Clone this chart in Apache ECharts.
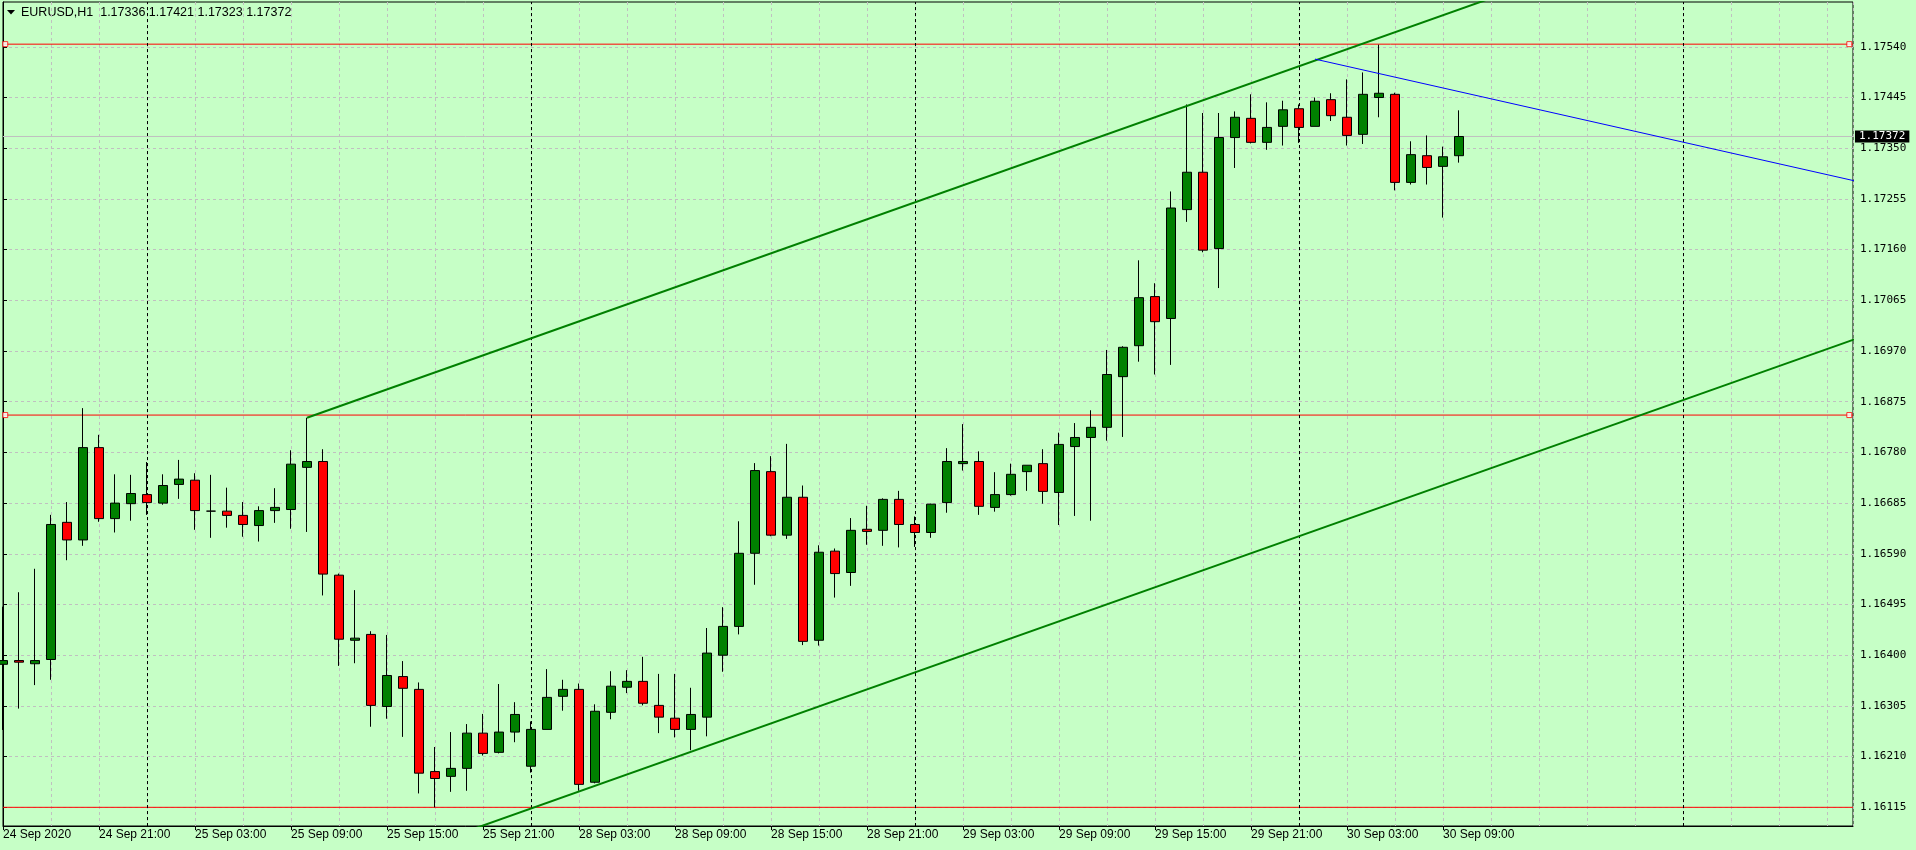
<!DOCTYPE html>
<html><head><meta charset="utf-8">
<script src="https://cdn.jsdelivr.net/npm/echarts@6/dist/echarts.min.js"></script>
<style>html,body{margin:0;padding:0;background:#c6ffc6;}#c{width:1916px;height:850px;}</style>
</head><body><div id="c"></div>
<script>
// ---- data ----
const symbolTitle = 'EURUSD,H1';
const lastBarText = '1.17336 1.17421 1.17323 1.17372';
// hourly bars, index 0 = 24 Sep 15:00 ... 91 = 30 Sep 10:00
const opens  = [1.16383,1.16390,1.16384,1.16392,1.16649,1.16616,1.16789,1.16656,1.16684,1.16701,
                1.16685,1.16720,1.16728,1.16670,1.16670,1.16662,1.16643,1.16671,1.16673,1.16752,
                1.16763,1.16550,1.16428,1.16439,1.16304,1.16360,1.16336,1.16182,1.16173,1.16188,
                1.16254,1.16218,1.16256,1.16192,1.16261,1.16323,1.16336,1.16162,1.16293,1.16340,
                1.16351,1.16306,1.16282,1.16261,1.16284,1.16400,1.16454,1.16591,1.16744,1.16625,
                1.16696,1.16428,1.16595,1.16555,1.16636,1.16634,1.16692,1.16645,1.16630,1.16686,
                1.16759,1.16763,1.16677,1.16701,1.16744,1.16759,1.16705,1.16791,1.16808,1.16827,
                1.16922,1.16980,1.17072,1.17031,1.17235,1.17305,1.17162,1.17370,1.17406,1.17361,
                1.17391,1.17424,1.17391,1.17441,1.17408,1.17376,1.17445,1.17451,1.17286,1.17336,
                1.17316,1.17336];
const closes = [1.16390,1.16387,1.16390,1.16645,1.16616,1.16789,1.16656,1.16685,1.16703,1.16686,
                1.16718,1.16730,1.16671,1.16670,1.16662,1.16645,1.16671,1.16677,1.16758,1.16763,
                1.16552,1.16430,1.16432,1.16306,1.16362,1.16338,1.16179,1.16169,1.16188,1.16254,
                1.16216,1.16256,1.16289,1.16261,1.16321,1.16336,1.16158,1.16295,1.16342,1.16351,
                1.16310,1.16284,1.16261,1.16289,1.16404,1.16454,1.16591,1.16746,1.16625,1.16696,
                1.16426,1.16593,1.16553,1.16634,1.16632,1.16692,1.16645,1.16630,1.16683,1.16763,
                1.16763,1.16679,1.16701,1.16739,1.16756,1.16707,1.16795,1.16808,1.16827,1.16926,
                1.16977,1.17070,1.17025,1.17238,1.17305,1.17159,1.17370,1.17408,1.17361,1.17389,
                1.17422,1.17389,1.17438,1.17411,1.17374,1.17451,1.17453,1.17286,1.17338,1.17314,
                1.17334,1.17372];
const lows   = [1.16260,1.16300,1.16344,1.16354,1.16578,1.16605,1.16650,1.16630,1.16652,1.16663,
                1.16682,1.16693,1.16635,1.16620,1.16639,1.16622,1.16613,1.16648,1.16637,1.16631,
                1.16512,1.16380,1.16385,1.16266,1.16281,1.16247,1.16141,1.16115,1.16144,1.16146,
                1.16212,1.16216,1.16237,1.16180,1.16261,1.16296,1.16146,1.16160,1.16280,1.16329,
                1.16306,1.16254,1.16246,1.16222,1.16248,1.16369,1.16439,1.16532,1.16623,1.16618,
                1.16419,1.16418,1.16508,1.16530,1.16607,1.16605,1.16602,1.16603,1.16620,1.16667,
                1.16746,1.16663,1.16669,1.16699,1.16708,1.16684,1.16644,1.16661,1.16652,1.16802,
                1.16809,1.16950,1.16926,1.16944,1.17212,1.17155,1.17088,1.17313,1.17359,1.17347,
                1.17355,1.17360,1.17391,1.17401,1.17355,1.17358,1.17408,1.17271,1.17282,1.17282,
                1.17220,1.17323];
const highs  = [1.16491,1.16518,1.16562,1.16663,1.16687,1.16863,1.16813,1.16739,1.16738,1.16762,
                1.16739,1.16766,1.16741,1.16738,1.16714,1.16687,1.16679,1.16713,1.16784,1.16845,
                1.16786,1.16553,1.16522,1.16445,1.16438,1.16389,1.16349,1.16228,1.16256,1.16271,
                1.16290,1.16346,1.16312,1.16276,1.16374,1.16354,1.16347,1.16308,1.16370,1.16372,
                1.16397,1.16365,1.16365,1.16339,1.16451,1.16490,1.16651,1.16760,1.16773,1.16796,
                1.16718,1.16606,1.16600,1.16657,1.16680,1.16694,1.16708,1.16660,1.16684,1.16788,
                1.16833,1.16782,1.16743,1.16759,1.16756,1.16786,1.16817,1.16835,1.16859,1.16972,
                1.16979,1.17140,1.17097,1.17269,1.17432,1.17416,1.17416,1.17419,1.17451,1.17436,
                1.17439,1.17432,1.17445,1.17453,1.17479,1.17492,1.17544,1.17454,1.17363,1.17374,
                1.17353,1.17421];
const xLabelIndex = [0,6,12,18,24,30,36,42,48,54,60,66,72,78,84,90];
const xLabelText  = ['24 Sep 2020','24 Sep 21:00','25 Sep 03:00','25 Sep 09:00','25 Sep 15:00','25 Sep 21:00',
                     '28 Sep 03:00','28 Sep 09:00','28 Sep 15:00','28 Sep 21:00','29 Sep 03:00','29 Sep 09:00',
                     '29 Sep 15:00','29 Sep 21:00','30 Sep 03:00','30 Sep 09:00'];
const yTickValues = [1.16115,1.16210,1.16305,1.16400,1.16495,1.16590,1.16685,1.16780,1.16875,
                     1.16970,1.17065,1.17160,1.17255,1.17350,1.17445,1.17540];
const daySeparators = [9,33,57,81,105];
const redLevels = [1.17545,1.16850,1.16115];
const anchoredLevels = [1.17545,1.16850];
const channelUpper = [[19,1.16845],[96,1.17663]];
const channelLower = [[19,1.15964],[116,1.16995]];
const blueLine = [[82,1.17517],[116,1.17287]];
const currentPrice = 1.17372;

// ---- chart ----
const X_MIN = 0, X_MAX = 115.625, Y_MIN = 1.16080, Y_MAX = 1.17624;
const BG = '#c6ffc6';
const candleData = opens.map((o, i) => [i, o, closes[i], lows[i], highs[i]]);
const chart = echarts.init(document.getElementById('c'));
const gridDash = {color: '#c0c0c0', width: 1, type: [3, 3]};
const hLine = (v, color, z) => ({type: 'line', z: z, silent: true, symbol: 'none', data: [[X_MIN, v], [X_MAX, v]],
  lineStyle: {color: color, width: 1, type: 'solid'}});
chart.setOption({
  animation: false,
  backgroundColor: BG,
  grid: {left: 3, right: 63, top: 2, bottom: 24, show: true, borderColor: '#000', borderWidth: 1, backgroundColor: 'transparent'},
  graphic: [
    {type: 'polygon', shape: {points: [[7, 10], [15, 10], [11, 14.5]]}, style: {fill: '#000'}},
    {type: 'text', left: 21, top: 6, style: {text: symbolTitle + '  ' + lastBarText, font: '12.5px "Liberation Sans"', fill: '#000'}}
  ],
  xAxis: [
    {type: 'value', min: X_MIN, max: X_MAX, interval: 3, position: 'bottom',
     axisLine: {show: true, lineStyle: {color: '#000'}}, axisTick: {show: false}, axisLabel: {show: false},
     splitLine: {show: true, lineStyle: gridDash}},
    {type: 'value', min: X_MIN, max: X_MAX, position: 'bottom',
     axisLine: {show: false},
     axisTick: {show: true, customValues: xLabelIndex, length: 4, lineStyle: {color: '#000'}},
     axisLabel: {customValues: xLabelIndex, formatter: v => xLabelText[xLabelIndex.indexOf(Math.round(v))] || '',
                 align: 'left', margin: 3, color: '#000', fontFamily: 'Liberation Sans', fontSize: 12},
     splitLine: {show: false}}
  ],
  yAxis: [
    {type: 'value', position: 'right', min: Y_MIN, max: Y_MAX, scale: true,
     axisLine: {show: true, lineStyle: {color: '#000'}},
     axisTick: {show: true, customValues: yTickValues, length: 4, lineStyle: {color: '#000'}},
     axisLabel: {customValues: yTickValues, formatter: v => v.toFixed(5), margin: 7, color: '#000',
                 fontFamily: 'DejaVu Sans Mono', fontSize: 11},
     splitLine: {show: true, lineStyle: gridDash}},
    {type: 'value', position: 'right', min: Y_MIN, max: Y_MAX, scale: true,
     axisLine: {show: false}, axisTick: {show: false}, splitLine: {show: false},
     axisLabel: {customValues: [currentPrice], formatter: v => v.toFixed(5), margin: 2, color: '#fff',
                 backgroundColor: '#000', padding: [1, 4, 0, 4],
                 fontFamily: 'DejaVu Sans Mono', fontSize: 11}}
  ],
  series: [
    {type: 'line', data: [], z: 1, silent: true,
     markLine: {silent: true, symbol: ['none', 'none'], label: {show: false},
       lineStyle: {color: '#000', width: 1, type: [3, 3]},
       data: daySeparators.map(v => ({xAxis: v}))}},
    hLine(currentPrice, '#c0c0c0', 2),
    ...redLevels.map(v => hLine(v, '#ff0000', 3)),
    {type: 'candlestick', z: 5, encode: {x: 0, y: [1, 2, 3, 4]}, barWidth: 10,
     itemStyle: {color: '#008000', color0: '#ff0000', borderColor: '#000', borderColor0: '#000', borderWidth: 1},
     data: candleData},
    {type: 'line', z: 6, silent: true, data: channelUpper, symbol: 'none', lineStyle: {color: '#008000', width: 2}},
    {type: 'line', z: 6, silent: true, data: channelLower, symbol: 'none', lineStyle: {color: '#008000', width: 2}},
    {type: 'line', z: 6, silent: true, data: blueLine, symbol: 'none', lineStyle: {color: '#0000ff', width: 1}},
    {type: 'scatter', z: 7, silent: true, symbol: 'rect', symbolSize: 5,
     itemStyle: {color: '#ffffff', borderColor: '#ff0000', borderWidth: 1},
     data: anchoredLevels.flatMap(v => [[X_MIN + 0.14, v], [X_MAX - 0.23, v]])}
  ]
});
</script></body></html>
